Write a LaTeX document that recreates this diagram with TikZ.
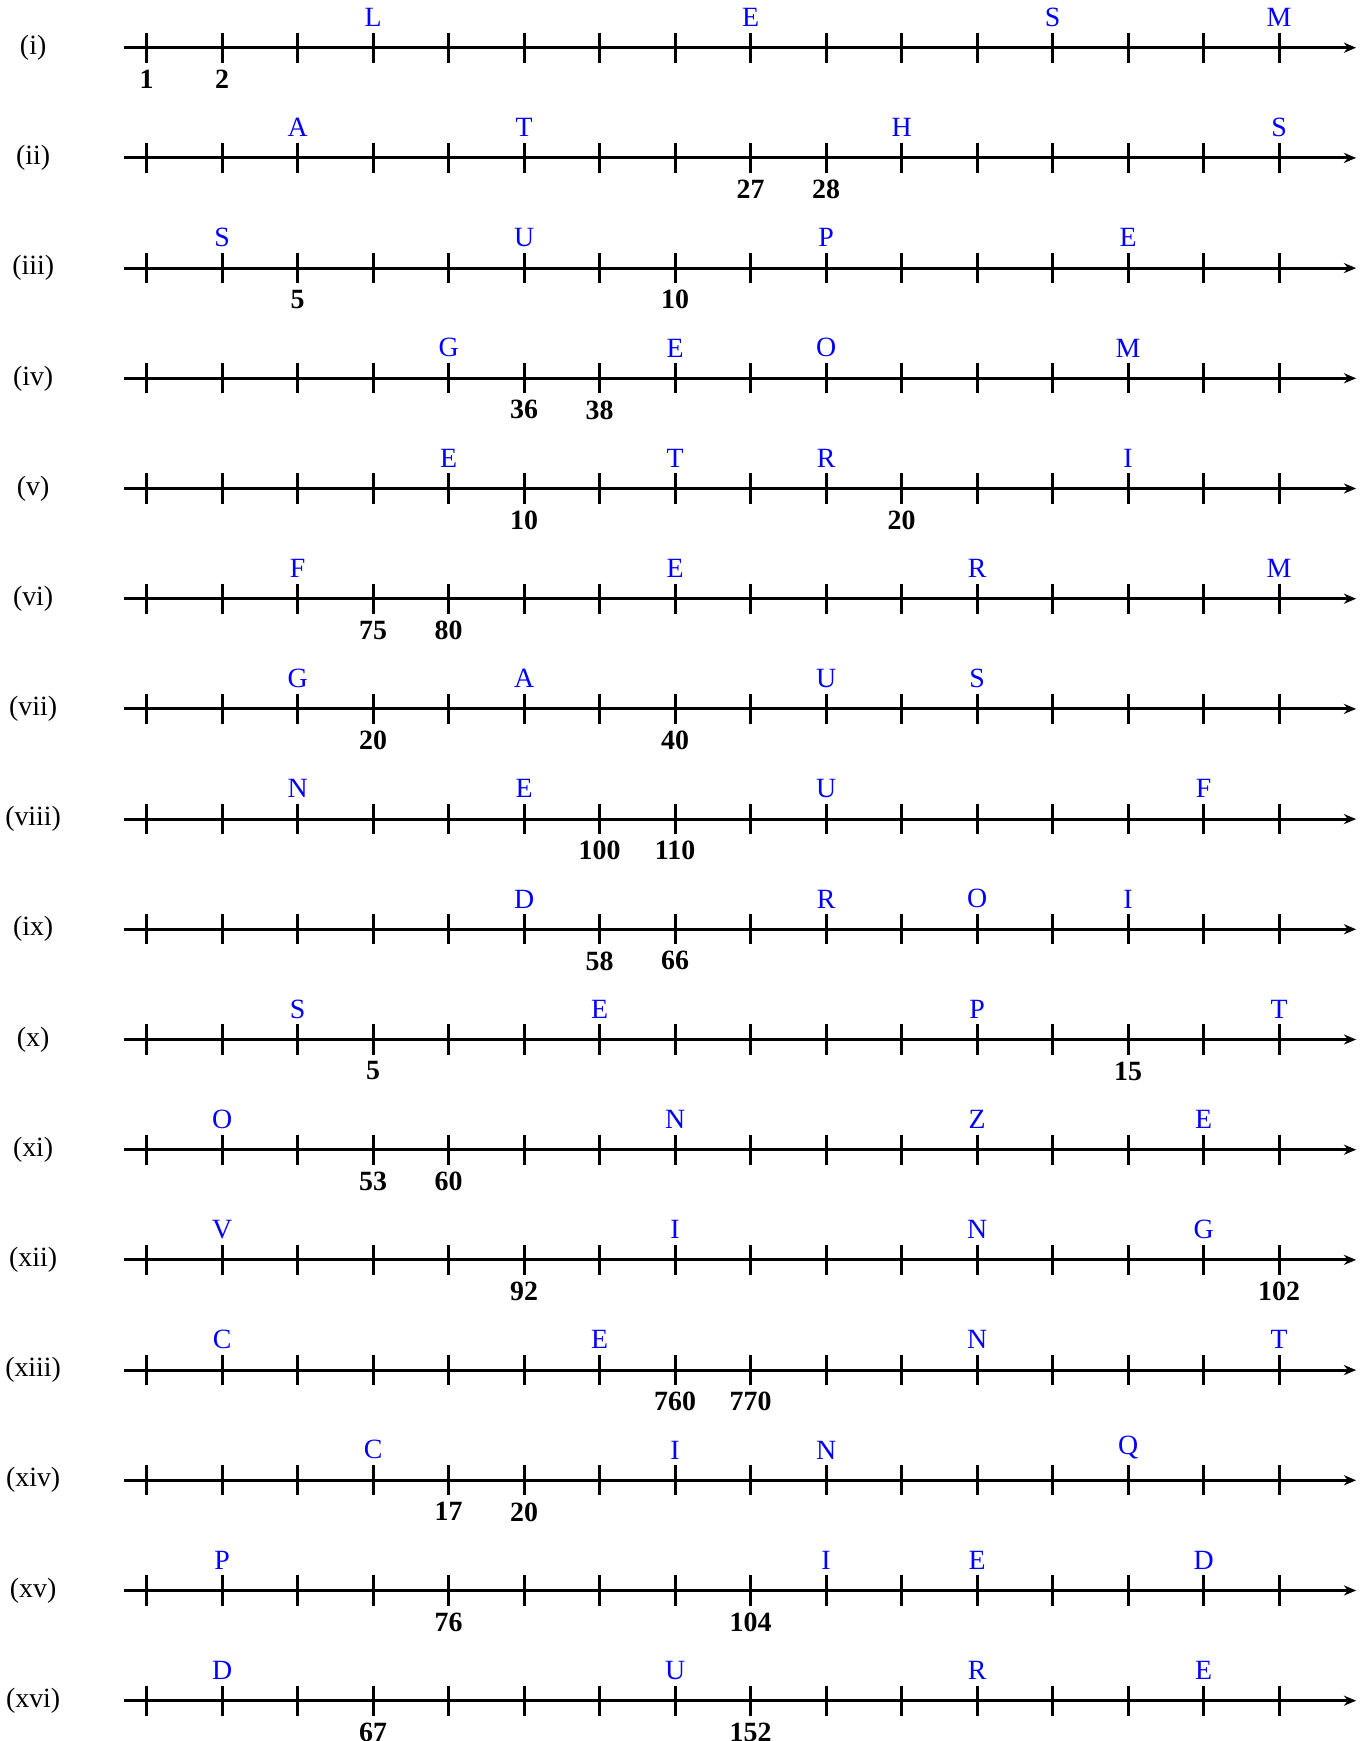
\documentclass[tikz,border=0pt]{standalone}
\usepackage{fontspec}
\setmainfont{Liberation Serif}
\usetikzlibrary{positioning,arrows.meta}

\begin{document}
\begin{tikzpicture}[
  x=1cm, y=1.4596cm,
  axis/.style={line width=1.1pt, -{Stealth[length=4.6pt, width=3.8pt]}},
  tick/.style={line width=1.1pt},
  letter/.style={anchor=south, inner sep=0pt, text=blue, font=\fontsize{10.5}{12}\selectfont},
  number/.style={anchor=north, inner sep=0pt, font=\fontsize{10.5}{12}\selectfont\bfseries},
  rowlabel/.style={inner sep=0pt, font=\fontsize{10.5}{12}\selectfont}
]
\useasboundingbox (-1.942,0.433) rectangle (16.164,-15.366);
\foreach \lab/\letters/\nums [count=\r from 0] in {
  i/{3/L,8/E,12/S,15/M}/{0/1,1/2},
  ii/{2/A,5/T,10/H,15/S}/{8/27,9/28},
  iii/{1/S,5/U,9/P,13/E}/{2/5,7/10},
  iv/{4/G,7/E,9/O,13/M}/{5/36,6/38},
  v/{4/E,7/T,9/R,13/I}/{5/10,10/20},
  vi/{2/F,7/E,11/R,15/M}/{3/75,4/80},
  vii/{2/G,5/A,9/U,11/S}/{3/20,7/40},
  viii/{2/N,5/E,9/U,14/F}/{6/100,7/110},
  ix/{5/D,9/R,11/O,13/I}/{6/58,7/66},
  x/{2/S,6/E,11/P,15/T}/{3/5,13/15},
  xi/{1/O,7/N,11/Z,14/E}/{3/53,4/60},
  xii/{1/V,7/I,11/N,14/G}/{5/92,15/102},
  xiii/{1/C,6/E,11/N,15/T}/{7/760,8/770},
  xiv/{3/C,7/I,9/N,13/Q}/{4/17,5/20},
  xv/{1/P,9/I,11/E,14/D}/{4/76,8/104},
  xvi/{1/D,7/U,11/R,14/E}/{3/67,8/152}}{
  \node[rowlabel] (lab\r) at (-1.503,-\r) {(\lab)};
  \coordinate (s\r) at (-0.3,-\r);
  \coordinate (e\r) at (16.02,-\r);
  \draw[axis] (s\r) -- (e\r);
  \foreach \i in {0,...,15}{
    \coordinate (t\r-\i) at (\i,-\r);
    \draw[tick] ([yshift=0.2cm]t\r-\i) -- ([yshift=-0.2cm]t\r-\i);
  }
  \foreach \p/\ch in \letters
    \node[letter] (c\r-\p) at ([yshift=0.274cm]t\r-\p) {\ch};
  \foreach \p/\val in \nums
    \node[number] (n\r-\p) at ([yshift=-0.287cm]t\r-\p) {\val};
}
\end{tikzpicture}
\end{document}
